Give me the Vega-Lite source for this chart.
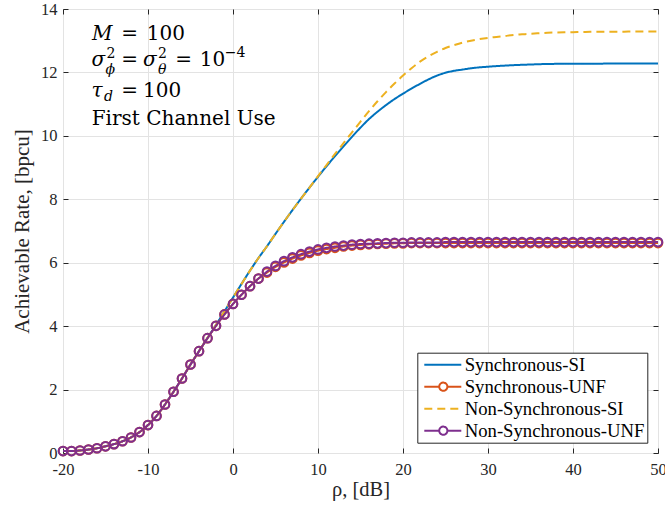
{
"$schema": "https://vega.github.io/schema/vega-lite/v6.json",
"width": 595, "height": 444,
"autosize": {"type": "none"},
"padding": {"left": 63, "top": 9, "right": 7, "bottom": 56},
"background": "white",
"config": {
  "font": "Liberation Serif",
  "view": {"stroke": "#262626", "strokeWidth": 1},
  "axis": {"labelFont": "Liberation Serif", "titleFont": "Liberation Serif", "labelColor": "#262626", "titleColor": "#262626", "titleFontWeight": "normal", "domain": false, "tickColor": "#262626", "gridColor": "#e3e3e3", "gridWidth": 1, "labelFlush": false}
},
"datasets": {
  "curves": [
{"x":-20,"s":"Synchronous-SI","y":0.06},{"x":-19,"s":"Synchronous-SI","y":0.06},{"x":-18,"s":"Synchronous-SI","y":0.08},{"x":-17,"s":"Synchronous-SI","y":0.11},{"x":-16,"s":"Synchronous-SI","y":0.15},{"x":-15,"s":"Synchronous-SI","y":0.21},{"x":-14,"s":"Synchronous-SI","y":0.28},{"x":-13,"s":"Synchronous-SI","y":0.37},{"x":-12,"s":"Synchronous-SI","y":0.49},{"x":-11,"s":"Synchronous-SI","y":0.66},{"x":-10,"s":"Synchronous-SI","y":0.88},{"x":-9,"s":"Synchronous-SI","y":1.17},{"x":-8,"s":"Synchronous-SI","y":1.53},{"x":-7,"s":"Synchronous-SI","y":1.93},{"x":-6,"s":"Synchronous-SI","y":2.35},{"x":-5,"s":"Synchronous-SI","y":2.79},{"x":-4,"s":"Synchronous-SI","y":3.21},{"x":-3,"s":"Synchronous-SI","y":3.63},{"x":-2,"s":"Synchronous-SI","y":4.04},{"x":-1,"s":"Synchronous-SI","y":4.47},{"x":0,"s":"Synchronous-SI","y":4.9},{"x":1,"s":"Synchronous-SI","y":5.33},{"x":2,"s":"Synchronous-SI","y":5.75},{"x":3,"s":"Synchronous-SI","y":6.15},{"x":4,"s":"Synchronous-SI","y":6.52},{"x":5,"s":"Synchronous-SI","y":6.91},{"x":6,"s":"Synchronous-SI","y":7.29},{"x":7,"s":"Synchronous-SI","y":7.66},{"x":8,"s":"Synchronous-SI","y":8.02},{"x":9,"s":"Synchronous-SI","y":8.37},{"x":10,"s":"Synchronous-SI","y":8.71},{"x":11,"s":"Synchronous-SI","y":9.04},{"x":12,"s":"Synchronous-SI","y":9.36},{"x":13,"s":"Synchronous-SI","y":9.67},{"x":14,"s":"Synchronous-SI","y":9.97},{"x":15,"s":"Synchronous-SI","y":10.26},{"x":16,"s":"Synchronous-SI","y":10.53},{"x":17,"s":"Synchronous-SI","y":10.76},{"x":18,"s":"Synchronous-SI","y":10.97},{"x":19,"s":"Synchronous-SI","y":11.16},{"x":20,"s":"Synchronous-SI","y":11.33},{"x":21,"s":"Synchronous-SI","y":11.49},{"x":22,"s":"Synchronous-SI","y":11.64},{"x":23,"s":"Synchronous-SI","y":11.78},{"x":24,"s":"Synchronous-SI","y":11.9},{"x":25,"s":"Synchronous-SI","y":11.99},{"x":26,"s":"Synchronous-SI","y":12.05},{"x":27,"s":"Synchronous-SI","y":12.09},{"x":28,"s":"Synchronous-SI","y":12.13},{"x":29,"s":"Synchronous-SI","y":12.16},{"x":30,"s":"Synchronous-SI","y":12.18},{"x":31,"s":"Synchronous-SI","y":12.2},{"x":32,"s":"Synchronous-SI","y":12.215},{"x":33,"s":"Synchronous-SI","y":12.23},{"x":34,"s":"Synchronous-SI","y":12.24},{"x":35,"s":"Synchronous-SI","y":12.25},{"x":36,"s":"Synchronous-SI","y":12.26},{"x":37,"s":"Synchronous-SI","y":12.265},{"x":38,"s":"Synchronous-SI","y":12.27},{"x":39,"s":"Synchronous-SI","y":12.27},{"x":40,"s":"Synchronous-SI","y":12.275},{"x":41,"s":"Synchronous-SI","y":12.275},{"x":42,"s":"Synchronous-SI","y":12.275},{"x":43,"s":"Synchronous-SI","y":12.275},{"x":44,"s":"Synchronous-SI","y":12.28},{"x":45,"s":"Synchronous-SI","y":12.28},{"x":46,"s":"Synchronous-SI","y":12.28},{"x":47,"s":"Synchronous-SI","y":12.28},{"x":48,"s":"Synchronous-SI","y":12.28},{"x":49,"s":"Synchronous-SI","y":12.28},{"x":50,"s":"Synchronous-SI","y":12.28},
{"x":-20,"s":"Synchronous-UNF","y":0.06},{"x":-19,"s":"Synchronous-UNF","y":0.06},{"x":-18,"s":"Synchronous-UNF","y":0.08},{"x":-17,"s":"Synchronous-UNF","y":0.11},{"x":-16,"s":"Synchronous-UNF","y":0.15},{"x":-15,"s":"Synchronous-UNF","y":0.21},{"x":-14,"s":"Synchronous-UNF","y":0.28},{"x":-13,"s":"Synchronous-UNF","y":0.37},{"x":-12,"s":"Synchronous-UNF","y":0.49},{"x":-11,"s":"Synchronous-UNF","y":0.66},{"x":-10,"s":"Synchronous-UNF","y":0.88},{"x":-9,"s":"Synchronous-UNF","y":1.17},{"x":-8,"s":"Synchronous-UNF","y":1.53},{"x":-7,"s":"Synchronous-UNF","y":1.93},{"x":-6,"s":"Synchronous-UNF","y":2.35},{"x":-5,"s":"Synchronous-UNF","y":2.79},{"x":-4,"s":"Synchronous-UNF","y":3.21},{"x":-3,"s":"Synchronous-UNF","y":3.62},{"x":-2,"s":"Synchronous-UNF","y":4.01},{"x":-1,"s":"Synchronous-UNF","y":4.37},{"x":0,"s":"Synchronous-UNF","y":4.7},{"x":1,"s":"Synchronous-UNF","y":4.99},{"x":2,"s":"Synchronous-UNF","y":5.26},{"x":3,"s":"Synchronous-UNF","y":5.5},{"x":4,"s":"Synchronous-UNF","y":5.69},{"x":5,"s":"Synchronous-UNF","y":5.87},{"x":6,"s":"Synchronous-UNF","y":6.01},{"x":7,"s":"Synchronous-UNF","y":6.13},{"x":8,"s":"Synchronous-UNF","y":6.23},{"x":9,"s":"Synchronous-UNF","y":6.31},{"x":10,"s":"Synchronous-UNF","y":6.38},{"x":11,"s":"Synchronous-UNF","y":6.43},{"x":12,"s":"Synchronous-UNF","y":6.47},{"x":13,"s":"Synchronous-UNF","y":6.51},{"x":14,"s":"Synchronous-UNF","y":6.54},{"x":15,"s":"Synchronous-UNF","y":6.56},{"x":16,"s":"Synchronous-UNF","y":6.58},{"x":17,"s":"Synchronous-UNF","y":6.59},{"x":18,"s":"Synchronous-UNF","y":6.6},{"x":19,"s":"Synchronous-UNF","y":6.61},{"x":20,"s":"Synchronous-UNF","y":6.61},{"x":21,"s":"Synchronous-UNF","y":6.62},{"x":22,"s":"Synchronous-UNF","y":6.62},{"x":23,"s":"Synchronous-UNF","y":6.62},{"x":24,"s":"Synchronous-UNF","y":6.62},{"x":25,"s":"Synchronous-UNF","y":6.62},{"x":26,"s":"Synchronous-UNF","y":6.62},{"x":27,"s":"Synchronous-UNF","y":6.62},{"x":28,"s":"Synchronous-UNF","y":6.62},{"x":29,"s":"Synchronous-UNF","y":6.62},{"x":30,"s":"Synchronous-UNF","y":6.62},{"x":31,"s":"Synchronous-UNF","y":6.62},{"x":32,"s":"Synchronous-UNF","y":6.62},{"x":33,"s":"Synchronous-UNF","y":6.62},{"x":34,"s":"Synchronous-UNF","y":6.62},{"x":35,"s":"Synchronous-UNF","y":6.62},{"x":36,"s":"Synchronous-UNF","y":6.62},{"x":37,"s":"Synchronous-UNF","y":6.62},{"x":38,"s":"Synchronous-UNF","y":6.62},{"x":39,"s":"Synchronous-UNF","y":6.62},{"x":40,"s":"Synchronous-UNF","y":6.62},{"x":41,"s":"Synchronous-UNF","y":6.62},{"x":42,"s":"Synchronous-UNF","y":6.62},{"x":43,"s":"Synchronous-UNF","y":6.62},{"x":44,"s":"Synchronous-UNF","y":6.62},{"x":45,"s":"Synchronous-UNF","y":6.62},{"x":46,"s":"Synchronous-UNF","y":6.62},{"x":47,"s":"Synchronous-UNF","y":6.62},{"x":48,"s":"Synchronous-UNF","y":6.62},{"x":49,"s":"Synchronous-UNF","y":6.62},{"x":50,"s":"Synchronous-UNF","y":6.62},
{"x":-20,"s":"Non-Synchronous-SI","y":0.06},{"x":-19,"s":"Non-Synchronous-SI","y":0.06},{"x":-18,"s":"Non-Synchronous-SI","y":0.08},{"x":-17,"s":"Non-Synchronous-SI","y":0.11},{"x":-16,"s":"Non-Synchronous-SI","y":0.15},{"x":-15,"s":"Non-Synchronous-SI","y":0.21},{"x":-14,"s":"Non-Synchronous-SI","y":0.28},{"x":-13,"s":"Non-Synchronous-SI","y":0.37},{"x":-12,"s":"Non-Synchronous-SI","y":0.49},{"x":-11,"s":"Non-Synchronous-SI","y":0.66},{"x":-10,"s":"Non-Synchronous-SI","y":0.88},{"x":-9,"s":"Non-Synchronous-SI","y":1.17},{"x":-8,"s":"Non-Synchronous-SI","y":1.53},{"x":-7,"s":"Non-Synchronous-SI","y":1.93},{"x":-6,"s":"Non-Synchronous-SI","y":2.35},{"x":-5,"s":"Non-Synchronous-SI","y":2.79},{"x":-4,"s":"Non-Synchronous-SI","y":3.21},{"x":-3,"s":"Non-Synchronous-SI","y":3.63},{"x":-2,"s":"Non-Synchronous-SI","y":4.04},{"x":-1,"s":"Non-Synchronous-SI","y":4.47},{"x":0,"s":"Non-Synchronous-SI","y":4.9},{"x":1,"s":"Non-Synchronous-SI","y":5.33},{"x":2,"s":"Non-Synchronous-SI","y":5.75},{"x":3,"s":"Non-Synchronous-SI","y":6.15},{"x":4,"s":"Non-Synchronous-SI","y":6.52},{"x":5,"s":"Non-Synchronous-SI","y":6.91},{"x":6,"s":"Non-Synchronous-SI","y":7.29},{"x":7,"s":"Non-Synchronous-SI","y":7.66},{"x":8,"s":"Non-Synchronous-SI","y":8.02},{"x":9,"s":"Non-Synchronous-SI","y":8.37},{"x":10,"s":"Non-Synchronous-SI","y":8.73},{"x":11,"s":"Non-Synchronous-SI","y":9.08},{"x":12,"s":"Non-Synchronous-SI","y":9.43},{"x":13,"s":"Non-Synchronous-SI","y":9.77},{"x":14,"s":"Non-Synchronous-SI","y":10.11},{"x":15,"s":"Non-Synchronous-SI","y":10.45},{"x":16,"s":"Non-Synchronous-SI","y":10.78},{"x":17,"s":"Non-Synchronous-SI","y":11.09},{"x":18,"s":"Non-Synchronous-SI","y":11.38},{"x":19,"s":"Non-Synchronous-SI","y":11.65},{"x":20,"s":"Non-Synchronous-SI","y":11.9},{"x":21,"s":"Non-Synchronous-SI","y":12.13},{"x":22,"s":"Non-Synchronous-SI","y":12.34},{"x":23,"s":"Non-Synchronous-SI","y":12.51},{"x":24,"s":"Non-Synchronous-SI","y":12.65},{"x":25,"s":"Non-Synchronous-SI","y":12.77},{"x":26,"s":"Non-Synchronous-SI","y":12.86},{"x":27,"s":"Non-Synchronous-SI","y":12.94},{"x":28,"s":"Non-Synchronous-SI","y":13.0},{"x":29,"s":"Non-Synchronous-SI","y":13.05},{"x":30,"s":"Non-Synchronous-SI","y":13.09},{"x":31,"s":"Non-Synchronous-SI","y":13.12},{"x":32,"s":"Non-Synchronous-SI","y":13.15},{"x":33,"s":"Non-Synchronous-SI","y":13.18},{"x":34,"s":"Non-Synchronous-SI","y":13.2},{"x":35,"s":"Non-Synchronous-SI","y":13.22},{"x":36,"s":"Non-Synchronous-SI","y":13.235},{"x":37,"s":"Non-Synchronous-SI","y":13.25},{"x":38,"s":"Non-Synchronous-SI","y":13.26},{"x":39,"s":"Non-Synchronous-SI","y":13.265},{"x":40,"s":"Non-Synchronous-SI","y":13.27},{"x":41,"s":"Non-Synchronous-SI","y":13.275},{"x":42,"s":"Non-Synchronous-SI","y":13.28},{"x":43,"s":"Non-Synchronous-SI","y":13.285},{"x":44,"s":"Non-Synchronous-SI","y":13.285},{"x":45,"s":"Non-Synchronous-SI","y":13.285},{"x":46,"s":"Non-Synchronous-SI","y":13.285},{"x":47,"s":"Non-Synchronous-SI","y":13.29},{"x":48,"s":"Non-Synchronous-SI","y":13.29},{"x":49,"s":"Non-Synchronous-SI","y":13.29},{"x":50,"s":"Non-Synchronous-SI","y":13.29},
{"x":-20,"s":"Non-Synchronous-UNF","y":0.06},{"x":-19,"s":"Non-Synchronous-UNF","y":0.06},{"x":-18,"s":"Non-Synchronous-UNF","y":0.08},{"x":-17,"s":"Non-Synchronous-UNF","y":0.11},{"x":-16,"s":"Non-Synchronous-UNF","y":0.15},{"x":-15,"s":"Non-Synchronous-UNF","y":0.21},{"x":-14,"s":"Non-Synchronous-UNF","y":0.28},{"x":-13,"s":"Non-Synchronous-UNF","y":0.37},{"x":-12,"s":"Non-Synchronous-UNF","y":0.49},{"x":-11,"s":"Non-Synchronous-UNF","y":0.66},{"x":-10,"s":"Non-Synchronous-UNF","y":0.88},{"x":-9,"s":"Non-Synchronous-UNF","y":1.17},{"x":-8,"s":"Non-Synchronous-UNF","y":1.53},{"x":-7,"s":"Non-Synchronous-UNF","y":1.93},{"x":-6,"s":"Non-Synchronous-UNF","y":2.35},{"x":-5,"s":"Non-Synchronous-UNF","y":2.79},{"x":-4,"s":"Non-Synchronous-UNF","y":3.21},{"x":-3,"s":"Non-Synchronous-UNF","y":3.62},{"x":-2,"s":"Non-Synchronous-UNF","y":4.01},{"x":-1,"s":"Non-Synchronous-UNF","y":4.37},{"x":0,"s":"Non-Synchronous-UNF","y":4.7},{"x":1,"s":"Non-Synchronous-UNF","y":4.99},{"x":2,"s":"Non-Synchronous-UNF","y":5.26},{"x":3,"s":"Non-Synchronous-UNF","y":5.5},{"x":4,"s":"Non-Synchronous-UNF","y":5.72},{"x":5,"s":"Non-Synchronous-UNF","y":5.9},{"x":6,"s":"Non-Synchronous-UNF","y":6.05},{"x":7,"s":"Non-Synchronous-UNF","y":6.17},{"x":8,"s":"Non-Synchronous-UNF","y":6.27},{"x":9,"s":"Non-Synchronous-UNF","y":6.35},{"x":10,"s":"Non-Synchronous-UNF","y":6.42},{"x":11,"s":"Non-Synchronous-UNF","y":6.47},{"x":12,"s":"Non-Synchronous-UNF","y":6.51},{"x":13,"s":"Non-Synchronous-UNF","y":6.54},{"x":14,"s":"Non-Synchronous-UNF","y":6.57},{"x":15,"s":"Non-Synchronous-UNF","y":6.59},{"x":16,"s":"Non-Synchronous-UNF","y":6.6},{"x":17,"s":"Non-Synchronous-UNF","y":6.61},{"x":18,"s":"Non-Synchronous-UNF","y":6.62},{"x":19,"s":"Non-Synchronous-UNF","y":6.63},{"x":20,"s":"Non-Synchronous-UNF","y":6.63},{"x":21,"s":"Non-Synchronous-UNF","y":6.64},{"x":22,"s":"Non-Synchronous-UNF","y":6.64},{"x":23,"s":"Non-Synchronous-UNF","y":6.64},{"x":24,"s":"Non-Synchronous-UNF","y":6.64},{"x":25,"s":"Non-Synchronous-UNF","y":6.65},{"x":26,"s":"Non-Synchronous-UNF","y":6.65},{"x":27,"s":"Non-Synchronous-UNF","y":6.65},{"x":28,"s":"Non-Synchronous-UNF","y":6.65},{"x":29,"s":"Non-Synchronous-UNF","y":6.65},{"x":30,"s":"Non-Synchronous-UNF","y":6.65},{"x":31,"s":"Non-Synchronous-UNF","y":6.65},{"x":32,"s":"Non-Synchronous-UNF","y":6.65},{"x":33,"s":"Non-Synchronous-UNF","y":6.65},{"x":34,"s":"Non-Synchronous-UNF","y":6.65},{"x":35,"s":"Non-Synchronous-UNF","y":6.65},{"x":36,"s":"Non-Synchronous-UNF","y":6.65},{"x":37,"s":"Non-Synchronous-UNF","y":6.65},{"x":38,"s":"Non-Synchronous-UNF","y":6.65},{"x":39,"s":"Non-Synchronous-UNF","y":6.65},{"x":40,"s":"Non-Synchronous-UNF","y":6.65},{"x":41,"s":"Non-Synchronous-UNF","y":6.65},{"x":42,"s":"Non-Synchronous-UNF","y":6.65},{"x":43,"s":"Non-Synchronous-UNF","y":6.65},{"x":44,"s":"Non-Synchronous-UNF","y":6.65},{"x":45,"s":"Non-Synchronous-UNF","y":6.65},{"x":46,"s":"Non-Synchronous-UNF","y":6.65},{"x":47,"s":"Non-Synchronous-UNF","y":6.65},{"x":48,"s":"Non-Synchronous-UNF","y":6.65},{"x":49,"s":"Non-Synchronous-UNF","y":6.65},{"x":50,"s":"Non-Synchronous-UNF","y":6.65}
  ],
  "notesItal": [{"x":-16.59,"y":13.01,"t":"M"},{"x":-16.66,"y":12.19,"t":"σ"},{"x":-10.59,"y":12.19,"t":"σ"},{"x":-16.66,"y":11.24,"t":"τ"}],
  "notesRoman": [{"x":-13.14,"y":13.01,"t":"="},{"x":-10.15,"y":13.01,"t":"100"},{"x":-13.14,"y":12.19,"t":"="},{"x":-6.78,"y":12.19,"t":"="},{"x":-3.92,"y":12.19,"t":"10"},{"x":-13.14,"y":11.24,"t":"="},{"x":-10.59,"y":11.24,"t":"100"},{"x":-16.62,"y":10.35,"t":"First Channel Use"}],
  "notesSup": [{"x":-14.89,"y":12.46,"t":"2"},{"x":-8.82,"y":12.46,"t":"2"},{"x":-0.98,"y":12.49,"t":"−4"}],
  "notesSub": [{"x":-15.01,"y":11.95,"t":"ϕ"},{"x":-8.82,"y":11.95,"t":"θ"},{"x":-15.18,"y":11.1,"t":"d"}]
},
"resolve": {"axis": {"x": "independent", "y": "independent"}},
"layer": [
  {
    "data": {"name": "curves"},
    "mark": {"type": "line", "strokeWidth": 2, "clip": true, "interpolate": "monotone"},
    "encoding": {
      "x": {"field": "x", "type": "quantitative", "scale": {"domain": [-20, 50], "nice": false, "zero": false},
        "axis": {"orient": "bottom", "values": [-20,-10,0,10,20,30,40,50], "labelExpr": "'' + datum.value", "labelFlush": false, "labelAlign": "center", "grid": true, "tickSize": -5, "labelPadding": 13, "labelFontSize": 16.5, "title": "ρ, [dB]", "titleFontSize": 20.5, "titlePadding": 2}},
      "y": {"field": "y", "type": "quantitative", "scale": {"domain": [0, 14], "nice": false, "zero": false},
        "axis": {"orient": "left", "values": [0,2,4,6,8,10,12,14], "labelFlush": false, "grid": true, "tickSize": -5, "labelPadding": 11, "labelFontSize": 16.5, "title": "Achievable Rate, [bpcu]", "titleFontSize": 21, "titlePadding": 8}},
      "color": {"field": "s", "type": "nominal",
        "scale": {"domain": ["Synchronous-SI","Synchronous-UNF","Non-Synchronous-SI","Non-Synchronous-UNF"], "range": ["#0072BD","#D95319","#EDB120","#7E2F8E"]},
        "legend": {"title": null, "orient": "none", "legendX": 354.3, "legendY": 343.7, "direction": "vertical",
          "strokeColor": "#262626", "fillColor": "white", "padding": 2, "cornerRadius": 0,
          "labelFont": "Liberation Serif", "labelFontSize": 18.7, "labelColor": "#000000", "labelOffset": 25.4, "labelLimit": 400,
          "symbolSize": 324, "symbolStrokeWidth": 2, "rowPadding": 2,
          "encode": {"symbols": {"update": {
            "shape": {"signal": "indexof(datum.value, 'UNF') >= 0 ? 'M-0.556,0H1.1M2.01,0H3.556M1.1,0A0.455,0.455,0,1,1,2.01,0A0.455,0.455,0,1,1,1.1,0' : 'M-0.556,0H3.556'"},
            "strokeDash": {"signal": "datum.value == 'Non-Synchronous-SI' ? [4.5,3.5] : [1,0]"},
            "fill": {"value": "transparent"}
          }}}}},
      "strokeDash": {"field": "s", "type": "nominal", "legend": null,
        "scale": {"domain": ["Synchronous-SI","Synchronous-UNF","Non-Synchronous-SI","Non-Synchronous-UNF"], "range": [[1,0],[1,0],[8,5],[1,0]]}}
    }
  },
  {
    "data": {"name": "curves"},
    "transform": [{"filter": "indexof(datum.s, 'UNF') >= 0"}],
    "mark": {"type": "point", "shape": "circle", "filled": false, "size": 75, "strokeWidth": 2, "opacity": 1},
    "encoding": {
      "x": {"field": "x", "type": "quantitative", "axis": null},
      "y": {"field": "y", "type": "quantitative", "axis": null},
      "color": {"field": "s", "type": "nominal", "legend": null}
    }
  },
  {
    "data": {"name": "curves"},
    "mark": {"type": "point", "opacity": 0},
    "encoding": {
      "x": {"field": "x", "type": "quantitative", "axis": {"orient": "top", "values": [-20,-10,0,10,20,30,40,50], "labels": false, "grid": false, "tickSize": -5, "title": null}},
      "y": {"field": "y", "type": "quantitative", "axis": {"orient": "right", "values": [0,2,4,6,8,10,12,14], "labels": false, "grid": false, "tickSize": -5, "title": null}}
    }
  },
  {
    "data": {"name": "notesItal"},
    "mark": {"type": "text", "align": "left", "baseline": "alphabetic", "fontSize": 20, "fontStyle": "italic", "font": "DejaVu Serif", "color": "#000000"},
    "encoding": {"x": {"field": "x", "type": "quantitative", "axis": null}, "y": {"field": "y", "type": "quantitative", "axis": null}, "text": {"field": "t"}}
  },
  {
    "data": {"name": "notesRoman"},
    "mark": {"type": "text", "align": "left", "baseline": "alphabetic", "fontSize": 20, "font": "DejaVu Serif", "color": "#000000"},
    "encoding": {"x": {"field": "x", "type": "quantitative", "axis": null}, "y": {"field": "y", "type": "quantitative", "axis": null}, "text": {"field": "t"}}
  },
  {
    "data": {"name": "notesSup"},
    "mark": {"type": "text", "align": "left", "baseline": "alphabetic", "fontSize": 14, "font": "DejaVu Serif", "color": "#000000"},
    "encoding": {"x": {"field": "x", "type": "quantitative", "axis": null}, "y": {"field": "y", "type": "quantitative", "axis": null}, "text": {"field": "t"}}
  },
  {
    "data": {"name": "notesSub"},
    "mark": {"type": "text", "align": "left", "baseline": "alphabetic", "fontSize": 14, "fontStyle": "italic", "font": "DejaVu Serif", "color": "#000000"},
    "encoding": {"x": {"field": "x", "type": "quantitative", "axis": null}, "y": {"field": "y", "type": "quantitative", "axis": null}, "text": {"field": "t"}}
  }
]
}
